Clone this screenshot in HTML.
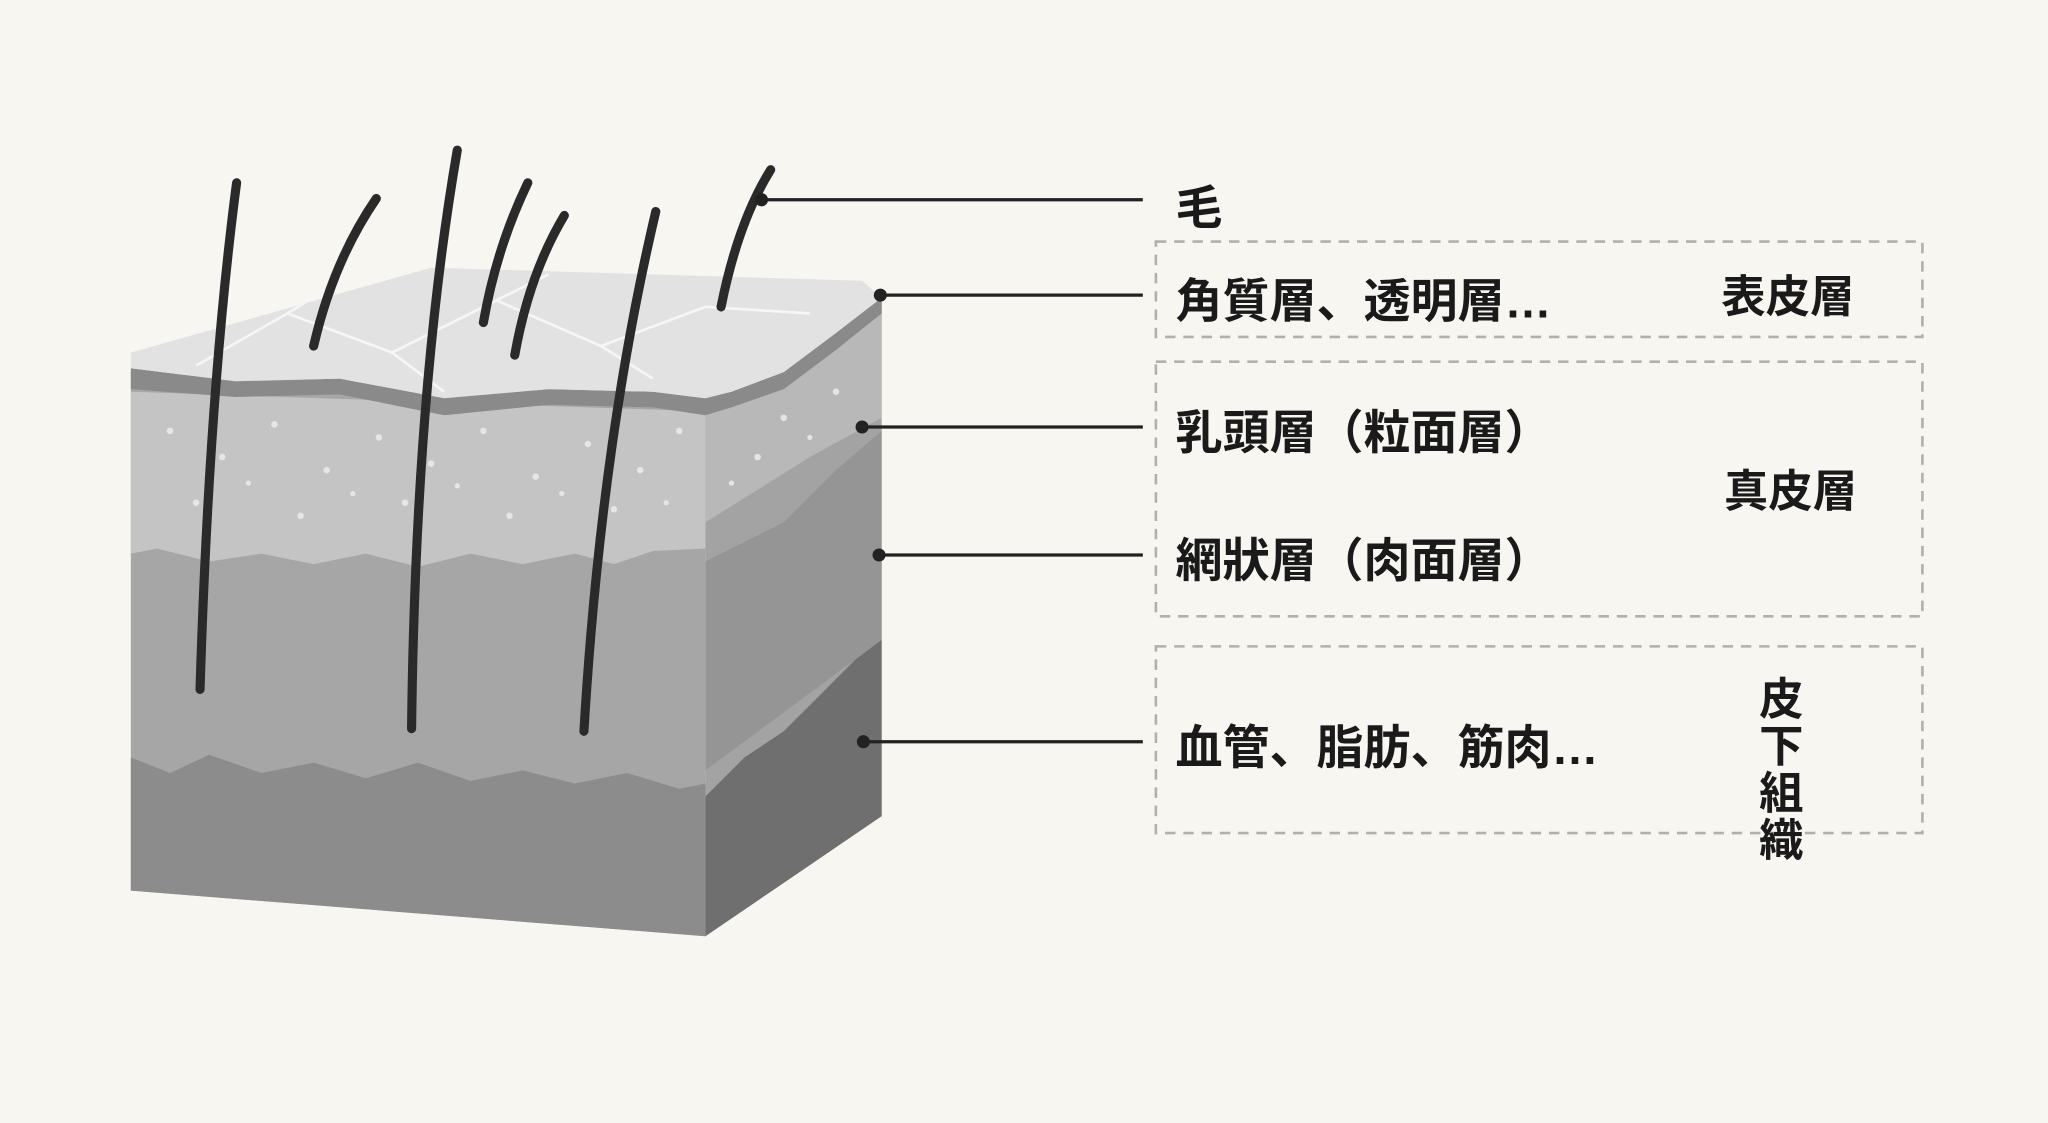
<!DOCTYPE html>
<html><head><meta charset="utf-8"><style>
html,body{margin:0;padding:0;background:#f8f6f0;}
svg{display:block;}
text{font-family:"Liberation Sans","Noto Sans CJK JP",sans-serif;font-weight:bold;fill:#1a1a1a;}
</style></head><body>
<svg width="2048" height="1123" viewBox="0 0 1568 860" xmlns="http://www.w3.org/2000/svg">
<rect width="1568" height="860" fill="#f8f6f0"/>
<polygon points="540,305 560,300 600,285 640,255 675,228 675,625 540,717" fill="#a3a3a3"/>
<polygon points="540,430 600,400 640,360 675,330 675,490 540,590" fill="#959595"/>
<path d="M540,610 L570,580 L600,560 L630,530 L655,505 L675,490 L675,625 L540,717 Z" fill="#6f6f6f"/>
<polygon points="540,305 560,300 600,285 640,255 675,228 675,320 620,350 540,400" fill="#b8b8b8"/>
<polygon points="100,285 540,305 540,717 100,682" fill="#a6a6a6"/>
<path d="M100,300 L540,315 L540,420 L500,422 L470,432 L440,424 L400,432 L360,424 L320,434 L280,424 L240,432 L200,424 L160,430 L120,420 L100,424 Z" fill="#c4c4c4"/>
<path d="M100,580 L130,592 L160,578 L200,592 L240,584 L280,596 L320,584 L360,598 L400,590 L440,600 L480,592 L520,604 L540,600 L540,717 L100,682 Z" fill="#8c8c8c"/>
<g fill="#ececec" opacity="0.85">
<circle cx="130" cy="330" r="2.5"/><circle cx="170" cy="350" r="2.5"/><circle cx="210" cy="325" r="2.5"/><circle cx="250" cy="360" r="2.5"/><circle cx="290" cy="335" r="2.5"/><circle cx="330" cy="355" r="2.5"/><circle cx="370" cy="330" r="2.5"/><circle cx="410" cy="365" r="2.5"/><circle cx="450" cy="340" r="2.5"/><circle cx="490" cy="360" r="2.5"/><circle cx="520" cy="330" r="2.5"/><circle cx="150" cy="385" r="2.5"/><circle cx="230" cy="395" r="2.5"/><circle cx="310" cy="385" r="2.5"/><circle cx="390" cy="395" r="2.5"/><circle cx="470" cy="390" r="2.5"/><circle cx="600" cy="320" r="2.5"/><circle cx="640" cy="300" r="2.5"/><circle cx="580" cy="350" r="2.5"/><circle cx="190" cy="370" r="2"/><circle cx="270" cy="378" r="2"/><circle cx="350" cy="372" r="2"/><circle cx="430" cy="378" r="2"/><circle cx="510" cy="385" r="2"/><circle cx="620" cy="335" r="2"/><circle cx="560" cy="370" r="2"/>
</g>
<path d="M100,282 L180,292 L260,290 L340,305 L420,298 L500,300 L540,305 L560,300 L600,285 L640,255 L675,228 L675,240 L640,268 L600,298 L560,312 L540,318 L500,312 L420,310 L340,318 L260,302 L180,304 L100,298 Z" fill="#8a8a8a"/>
<polygon points="100,282 180,292 260,290 340,305 420,298 500,300 540,305 560,300 600,285 640,255 675,228 660,215 330,205 100,270" fill="#e2e2e2"/>
<g stroke="#f6f6f6" stroke-width="2" fill="none">
<path d="M150,280 L220,240 L300,270 L380,230 L460,265 L540,235 L620,240"/>
<path d="M220,240 L260,215 M380,230 L420,210 M460,265 L500,290 M300,270 L340,300"/>
</g>
<g stroke="#2a2a2a" stroke-width="7" fill="none" stroke-linecap="round">
<path d="M181,140 Q160,300 153,528"/>
<path d="M288,152 Q255,200 240,265"/>
<path d="M350,115 Q318,300 315,558"/>
<path d="M404,140 Q380,190 370,247"/>
<path d="M432,165 Q405,210 394,272"/>
<path d="M502,162 Q460,340 447,560"/>
<path d="M590,130 Q565,170 552,235"/>
</g>
<g stroke="#222" stroke-width="2.5">
<line x1="583" y1="153" x2="875" y2="153"/>
<line x1="674" y1="226" x2="875" y2="226"/>
<line x1="660" y1="327" x2="875" y2="327"/>
<line x1="673" y1="425" x2="875" y2="425"/>
<line x1="661" y1="568" x2="875" y2="568"/>
</g>
<g fill="#222"><circle cx="583" cy="153" r="5"/><circle cx="674" cy="226" r="5"/><circle cx="660" cy="327" r="5"/><circle cx="673" cy="425" r="5"/><circle cx="661" cy="568" r="5"/></g>
<g fill="none" stroke="#b0b0b0" stroke-width="2" stroke-dasharray="8,6">
<rect x="885" y="185" width="587" height="73"/>
<rect x="885" y="277" width="587" height="195"/>
<rect x="885" y="495" width="587" height="143"/>
</g>
<g font-size="36">
<text x="900" y="172">毛</text>
<text x="900" y="243">角質層、透明層…</text>
<text x="900" y="344">乳頭層（粒面層）</text>
<text x="900" y="442">網狀層（肉面層）</text>
<text x="900" y="585">血管、脂肪、筋肉…</text>
</g>
<g font-size="34">
<text x="1318" y="239">表皮層</text>
<text x="1320" y="388">真皮層</text>
<text x="1347" y="547">皮</text>
<text x="1347" y="583">下</text>
<text x="1347" y="619">組</text>
<text x="1347" y="655">織</text>
</g>
</svg>
</body></html>
